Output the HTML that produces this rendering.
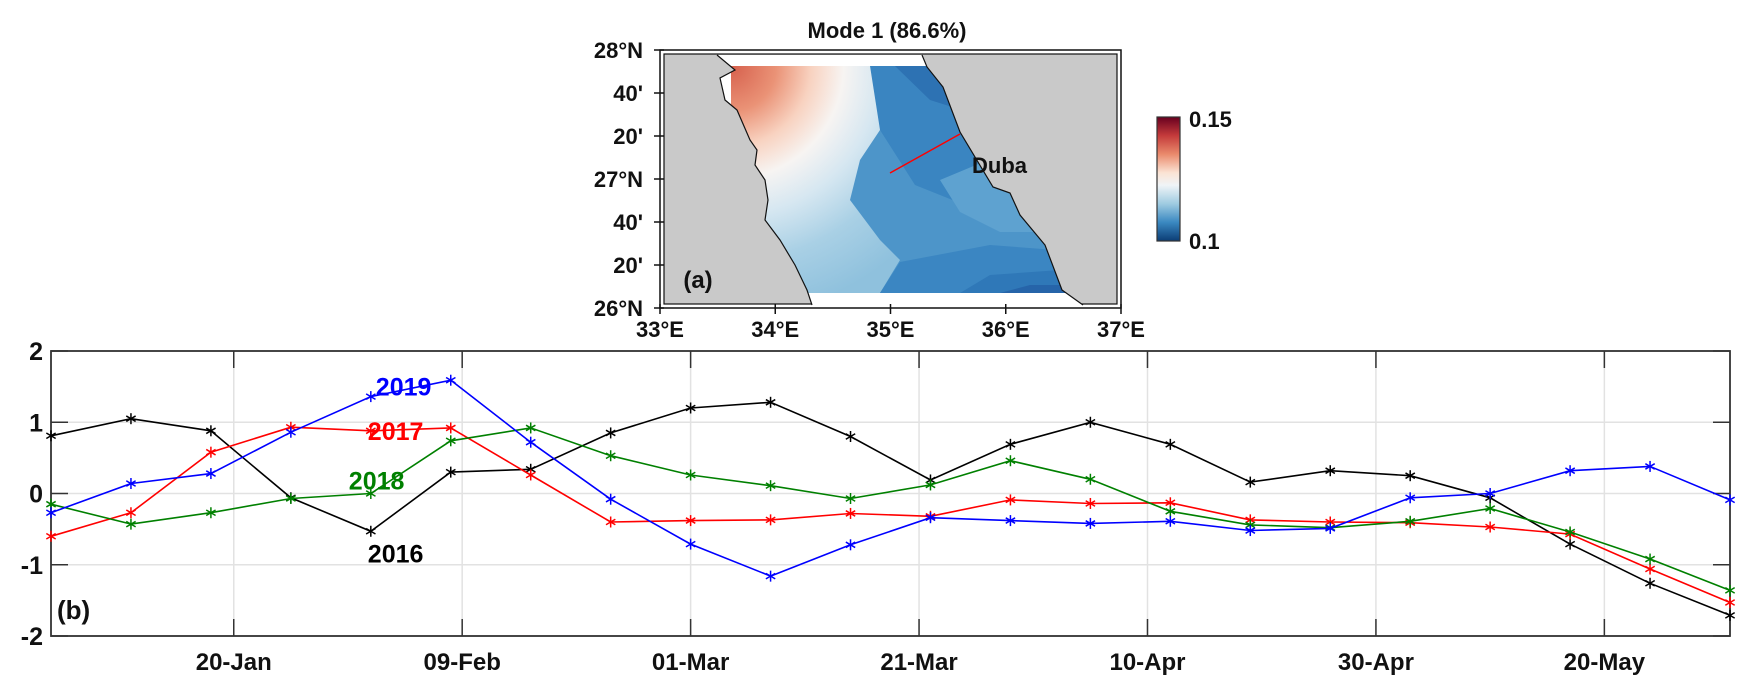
<!DOCTYPE html>
<html><head><meta charset="utf-8">
<style>
html,body{margin:0;padding:0;background:#fff;}
svg{display:block;}
text{font-family:"Liberation Sans Narrow","Liberation Sans",sans-serif;font-weight:bold;fill:#111;}
</style></head>
<body>
<svg id="fig" width="1753" height="698" viewBox="0 0 1753 698" xmlns="http://www.w3.org/2000/svg">
<defs>
 <clipPath id="dataclip"><rect x="731" y="66" width="390" height="227"/></clipPath>
 <clipPath id="seaclip"><polygon id="seapoly" points="717,55 735,70 720,78 725,100 737,110 750,140 757,150 755,165 765,180 768,200 765,220 780,240 795,265 807,290 812,305 1083,305 1062,290 1045,245 1020,215 1010,193 993,187 960,132 943,87 927,67 922,55"/></clipPath>
 <radialGradient id="westgrad" cx="731" cy="66" r="250" gradientUnits="userSpaceOnUse">
  <stop offset="0" stop-color="#d6604d"/>
  <stop offset="0.18" stop-color="#ea9276"/>
  <stop offset="0.32" stop-color="#f8d2c0"/>
  <stop offset="0.45" stop-color="#f7f4f2"/>
  <stop offset="0.6" stop-color="#d6e7f1"/>
  <stop offset="0.78" stop-color="#a9d0e5"/>
  <stop offset="1" stop-color="#8fc1dd"/>
 </radialGradient>
 <linearGradient id="cbgrad" x1="0" y1="0" x2="0" y2="1">
  <stop offset="0" stop-color="#67001f"/>
  <stop offset="0.15" stop-color="#c43b3b"/>
  <stop offset="0.3" stop-color="#ea8a6c"/>
  <stop offset="0.45" stop-color="#fbe3d4"/>
  <stop offset="0.55" stop-color="#f0f4f7"/>
  <stop offset="0.7" stop-color="#9fcbe1"/>
  <stop offset="0.85" stop-color="#3a88c1"/>
  <stop offset="1" stop-color="#0b3d75"/>
 </linearGradient>
</defs>

<g>
 <text x="887" y="38" font-size="22" text-anchor="middle">Mode 1 (86.6%)</text>
 <rect x="660" y="50" width="461" height="258" fill="#fff" stroke="#111" stroke-width="1.5"/>
 <rect x="664" y="54" width="453" height="250" fill="#c9c9c9" stroke="#111" stroke-width="1.2"/>
 <g clip-path="url(#seaclip)">
  <rect x="660" y="50" width="461" height="258" fill="#fff"/>
  <g clip-path="url(#dataclip)">
   <rect x="731" y="66" width="390" height="227" fill="#4d95c9"/>
   <polygon points="870,66 1121,66 1121,160 1010,168 965,205 915,185 880,130" fill="#3a85c1"/>
   <polygon points="895,66 1121,66 1121,118 1000,122 930,100" fill="#2d72b3"/>
   <polygon points="940,180 1000,155 1060,160 1085,195 1075,232 1000,232 960,212" fill="#5ea2d0"/>
   <polygon points="1055,190 1080,188 1085,198 1058,200" fill="#86bcdc"/>
   <polygon points="731,66 870,66 880,130 860,160 850,200 880,240 900,260 880,293 731,293" fill="url(#westgrad)"/>
   <polygon points="880,293 900,262 990,245 1121,255 1121,293" fill="#3b86c2"/>
   <polygon points="960,293 990,275 1060,270 1121,280 1121,293" fill="#2f78b8"/>
   <polygon points="1000,293 1030,285 1070,285 1090,293" fill="#2664a9"/>
  </g>
 </g>
 <polyline points="717,55 735,70 720,78 725,100 737,110 750,140 757,150 755,165 765,180 768,200 765,220 780,240 795,265 807,290 812,305" fill="none" stroke="#111" stroke-width="1.2"/>
 <polyline points="922,55 927,67 943,87 960,132 993,187 1010,193 1020,215 1045,245 1062,290 1083,305" fill="none" stroke="#111" stroke-width="1.2"/>
 <line x1="890" y1="173" x2="960" y2="134" stroke="#ff0000" stroke-width="1.5"/>
 <text x="972" y="173" font-size="22">Duba</text>
 <text x="698" y="288" font-size="24" text-anchor="middle">(a)</text>
 <g id="maplabels"></g>
 <rect x="1157" y="117" width="23" height="124" fill="url(#cbgrad)" stroke="#333" stroke-width="1.2"/>
 <text x="1189" y="127" font-size="22">0.15</text>
 <text x="1189" y="249" font-size="22">0.1</text>
</g>

<g id="chart"></g>
</svg>

<script>
const yearLabels = ["2016", "2017", "2018", "2019"];
const seriesColors = ["#000000", "#ff0000", "#008000", "#0000ff"];
const s2016 = [0.81,1.05,0.88,-0.06,-0.53,0.30,0.34,0.85,1.20,1.28,0.80,0.19,0.69,1.00,0.69,0.16,0.32,0.25,-0.06,-0.71,-1.26,-1.71];
const s2017 = [-0.60,-0.27,0.58,0.93,0.88,0.92,0.26,-0.40,-0.38,-0.37,-0.28,-0.32,-0.09,-0.14,-0.13,-0.37,-0.40,-0.41,-0.47,-0.57,-1.06,-1.53];
const s2018 = [-0.15,-0.43,-0.27,-0.07,0.00,0.74,0.92,0.53,0.26,0.11,-0.07,0.12,0.46,0.20,-0.25,-0.44,-0.48,-0.39,-0.21,-0.54,-0.92,-1.36];
const s2019 = [-0.27,0.14,0.28,0.86,1.36,1.59,0.72,-0.08,-0.71,-1.16,-0.72,-0.34,-0.38,-0.42,-0.39,-0.52,-0.49,-0.06,0.00,0.32,0.38,-0.09];
const xTickLabels = ["20-Jan","09-Feb","01-Mar","21-Mar","10-Apr","30-Apr","20-May"];
const xTickDays = [16,36,56,76,96,116,136];
const yTickValues = [2,1,0,-1,-2];
const sampleStepDays = 7;
const labelValues = [-0.84, 0.88, 0.18, 1.50];
const lonTicks = [33,34,35,36,37];
const latTicks = [28, 27+40/60, 27+20/60, 27, 26+40/60, 26+20/60, 26];
const latTickLabels = ["28°N","40'","20'","27°N","40'","20'","26°N"];

const NS = "http://www.w3.org/2000/svg";
function mk(tag, attrs, parent){
  const e = document.createElementNS(NS, tag);
  for (const k in attrs) e.setAttribute(k, attrs[k]);
  parent.appendChild(e);
  return e;
}

const ml = document.getElementById("maplabels");
const lonX = lon => 660 + (lon-33)*115.25;
const latY = lat => 50 + (28-lat)*129;
lonTicks.forEach(l => {
  const t = mk("text", {x: lonX(l), y: 337, "font-size": 22, "text-anchor": "middle"}, ml);
  
  
  t.textContent = l + "°E";
  const tk = mk("line", {x1: lonX(l), y1: 304, x2: lonX(l), y2: 314, stroke: "#111", "stroke-width": 1.5}, ml);
  
  
});
latTicks.forEach((l,i) => {
  const t = mk("text", {x: 643, y: latY(l)+8, "font-size": 22, "text-anchor": "end"}, ml);
  
  
  t.textContent = latTickLabels[i];
  const tk = mk("line", {x1: 654, y1: latY(l), x2: 664, y2: latY(l), stroke: "#111", "stroke-width": 1.5}, ml);
  
  
});

const g = document.getElementById("chart");
const L = 51, R = 1730, T = 351, B = 636;
const totalDays = (s2016.length-1)*sampleStepDays;
const xDay = d => L + d/totalDays*(R-L);
const yVal = v => T + (2 - v)/4*(B-T);

xTickDays.forEach(d => {
  const l = mk("line", {x1: xDay(d), y1: T, x2: xDay(d), y2: B, stroke: "#e2e2e2", "stroke-width": 1.5}, g);
  
  
});
yTickValues.forEach(v => {
  const l = mk("line", {x1: L, y1: yVal(v), x2: R, y2: yVal(v), stroke: "#e2e2e2", "stroke-width": 1.5}, g);
  
  
});
const fr = mk("rect", {x: L, y: T, width: R-L, height: B-T, fill: "none", stroke: "#333", "stroke-width": 1.8}, g);


xTickDays.forEach((d,i) => {
  const a = mk("line", {x1: xDay(d), y1: T, x2: xDay(d), y2: T+17, stroke: "#333", "stroke-width": 1.5}, g);
  
  
  const b = mk("line", {x1: xDay(d), y1: B, x2: xDay(d), y2: B-17, stroke: "#333", "stroke-width": 1.5}, g);
  
  
  const t = mk("text", {x: xDay(d), y: 670, "font-size": 24, "text-anchor": "middle"}, g);
  
  
  t.textContent = xTickLabels[i];
});
yTickValues.forEach(v => {
  const a = mk("line", {x1: L, y1: yVal(v), x2: L+17, y2: yVal(v), stroke: "#333", "stroke-width": 1.5}, g);
  
  
  const b = mk("line", {x1: R, y1: yVal(v), x2: R-17, y2: yVal(v), stroke: "#333", "stroke-width": 1.5}, g);
  
  
  const t = mk("text", {x: 43, y: yVal(v)+9, "font-size": 25, "text-anchor": "end"}, g);
  
  
  t.textContent = String(v);
});
[s2016, s2017, s2018, s2019].forEach((s, k) => {
  const col = seriesColors[k];
  const pts = s.map((v,i) => xDay(i*sampleStepDays).toFixed(1) + "," + yVal(v).toFixed(1)).join(" ");
  const pl = mk("polyline", {points: pts, fill: "none", stroke: col, "stroke-width": 1.6}, g);
  
  
  s.forEach((v,i) => {
    const cx = xDay(i*sampleStepDays), cy = yVal(v), r = 5.5;
    const m = mk("g", {stroke: col, "stroke-width": 1.5}, g);
    
    
    mk("line", {x1: cx, y1: cy-r, x2: cx, y2: cy+r}, m);
    mk("line", {x1: cx-r*0.85, y1: cy-r*0.5, x2: cx+r*0.85, y2: cy+r*0.5}, m);
    mk("line", {x1: cx-r*0.85, y1: cy+r*0.5, x2: cx+r*0.85, y2: cy-r*0.5}, m);
  });
  const lx = xDay(4*sampleStepDays) + (k === 2 ? -22 : (k === 3 ? 5 : -3));
  const t = mk("text", {x: lx, y: yVal(labelValues[k])+9, "font-size": 25, "text-anchor": "start"}, g);
  
  
  t.style.fill = col;
  t.textContent = yearLabels[k];
});
const pb = mk("text", {x: 57, y: 619, "font-size": 26}, g);


pb.textContent = "(b)";
</script>
</body></html>
